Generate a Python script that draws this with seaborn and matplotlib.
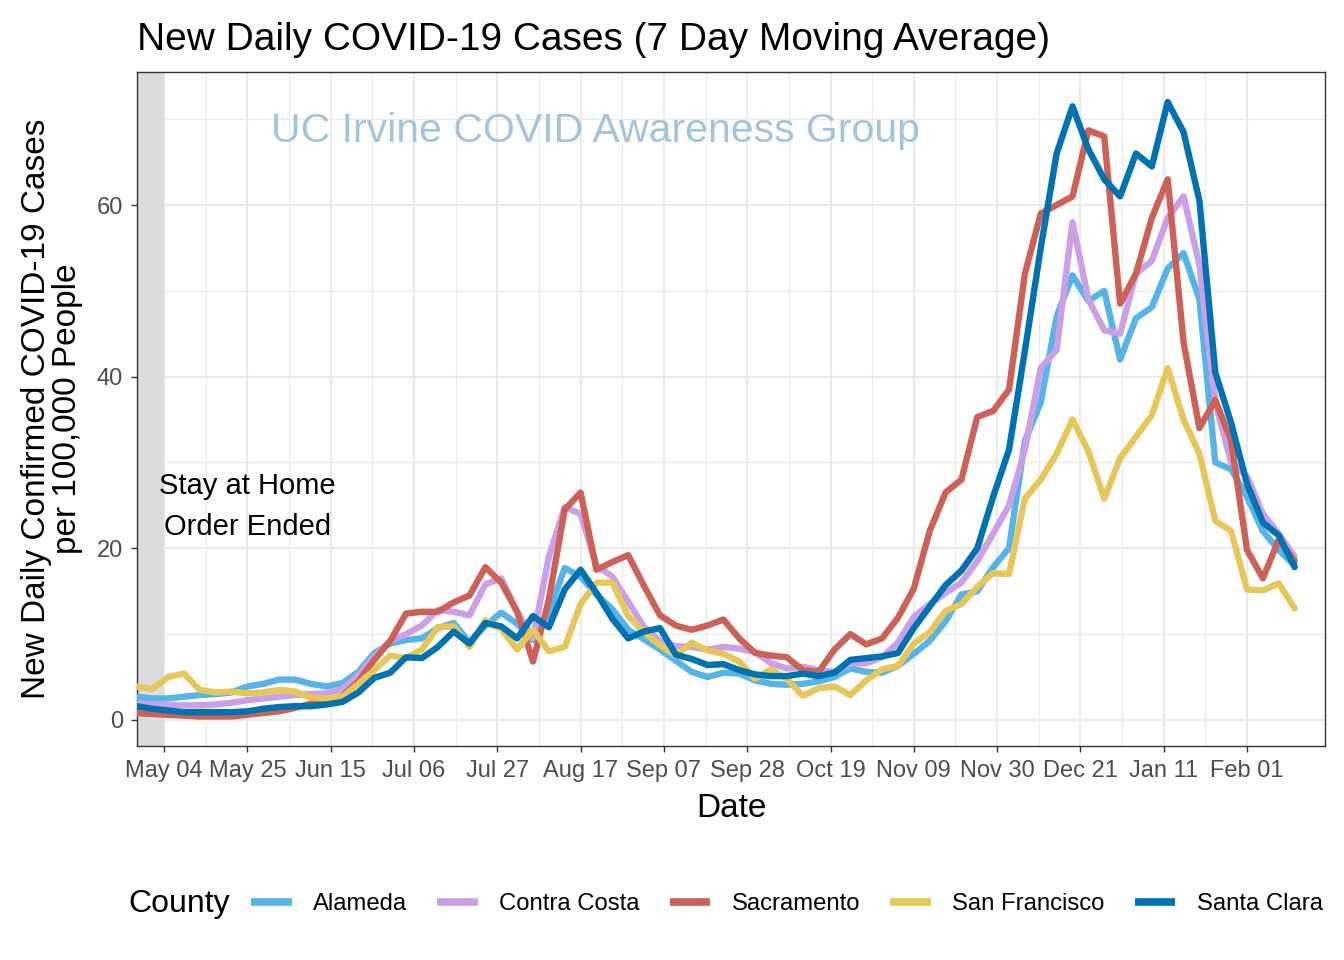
import numpy as np
import pandas as pd
import matplotlib
matplotlib.use("Agg")
import matplotlib.pyplot as plt
import matplotlib.dates as mdates
from matplotlib.lines import Line2D
import seaborn as sns

# === data: 7-day avg cases per 100k, one reading every 4 days from Apr 27 2020 ===
start = pd.Timestamp("2020-04-27")
n_points = 74
dates = pd.date_range(start, periods=n_points, freq="4D")

alameda = [2.7, 2.5, 2.5, 2.7, 2.9, 3.0, 3.2, 3.9, 4.2, 4.7,
           4.7, 4.2, 3.9, 4.3, 5.6, 7.8, 8.9, 9.3, 9.5, 10.7,
           11.3, 9.0, 11.0, 12.5, 11.2, 9.3, 12.5, 17.7, 16.7, 14.6,
           12.9, 10.5, 9.4, 8.2, 6.9, 5.6, 5.0, 5.5, 5.4, 4.6,
           4.2, 4.1, 4.2, 4.5, 5.0, 6.0, 5.6, 5.5, 6.3, 7.7,
           9.2, 11.5, 14.6, 15.0, 17.8, 20.0, 32.5, 37.0, 47.0, 51.8,
           48.8, 50.0, 42.0, 46.8, 48.1, 52.6, 54.4, 49.0, 30.0, 29.2,
           26.0, 22.0, 19.8, 18.0]

contra_costa = [1.9, 1.8, 1.7, 1.7, 1.7, 1.8, 2.0, 2.3, 2.5, 2.7,
                2.9, 3.0, 3.1, 3.6, 5.2, 7.4, 9.2, 10.0, 11.0, 12.8,
                12.6, 12.2, 15.8, 16.5, 12.6, 9.5, 19.0, 24.8, 24.0, 18.0,
                16.7, 13.8, 10.8, 9.2, 8.6, 8.5, 8.2, 8.5, 8.3, 7.9,
                6.6, 6.0, 6.2, 5.8, 5.6, 6.6, 6.6, 7.3, 9.0, 12.0,
                13.5, 14.8, 16.0, 18.5, 21.7, 25.0, 31.5, 41.0, 43.1, 58.0,
                49.0, 45.4, 45.0, 52.0, 53.5, 58.5, 61.0, 53.0, 37.0, 30.0,
                28.4, 24.0, 21.7, 19.0]

sacramento = [0.8, 0.7, 0.6, 0.5, 0.4, 0.4, 0.4, 0.6, 0.8, 1.0,
              1.4, 1.9, 2.2, 2.8, 4.5, 7.0, 9.2, 12.4, 12.6, 12.6,
              13.7, 14.5, 17.8, 16.0, 12.6, 6.8, 14.0, 24.5, 26.5, 17.5,
              18.4, 19.2, 15.6, 12.2, 11.0, 10.5, 11.0, 11.7, 9.5, 7.8,
              7.5, 7.3, 5.8, 5.6, 8.2, 10.0, 8.8, 9.5, 11.9, 15.3,
              22.0, 26.5, 28.0, 35.3, 36.0, 38.5, 52.0, 59.0, 60.0, 61.0,
              68.7, 68.0, 48.5, 52.0, 58.5, 63.0, 44.0, 34.0, 37.3, 32.5,
              19.8, 16.5, 21.0, 18.5]

san_francisco = [3.9, 3.6, 5.0, 5.4, 3.5, 3.2, 3.3, 3.1, 3.2, 3.5,
                 3.3, 2.6, 2.5, 2.7, 4.2, 5.8, 7.5, 7.2, 8.2, 10.8,
                 10.9, 8.5, 11.6, 10.6, 8.2, 10.5, 8.0, 8.5, 13.5, 16.0,
                 16.0, 12.1, 10.2, 8.7, 7.5, 9.0, 8.1, 7.7, 6.8, 4.8,
                 5.9, 4.8, 2.8, 3.7, 3.9, 2.9, 4.6, 5.9, 6.3, 8.9,
                 10.2, 12.7, 13.5, 15.5, 17.1, 17.0, 25.8, 28.0, 31.0, 35.0,
                 31.3, 25.8, 30.5, 33.0, 35.5, 41.0, 35.0, 31.0, 23.2, 22.0,
                 15.2, 15.1, 15.9, 13.0]

santa_clara = [1.6, 1.3, 1.1, 0.9, 0.9, 0.9, 0.9, 1.0, 1.3, 1.5,
               1.6, 1.6, 1.8, 2.1, 3.2, 4.9, 5.5, 7.3, 7.2, 8.5,
               10.3, 8.9, 11.3, 10.9, 9.5, 12.1, 10.8, 15.2, 17.5, 14.8,
               11.8, 9.5, 10.3, 10.7, 7.6, 7.1, 6.4, 6.5, 5.8, 5.3,
               5.1, 5.1, 5.4, 5.1, 5.5, 7.0, 7.2, 7.4, 7.8, 10.7,
               13.2, 15.7, 17.4, 20.0, 26.0, 31.5, 43.0, 55.0, 66.0, 71.5,
               66.5, 63.0, 61.0, 66.0, 64.5, 72.0, 68.5, 60.5, 40.5, 34.6,
               27.5, 23.0, 21.5, 17.8]

counties = ["Alameda", "Contra Costa", "Sacramento", "San Francisco", "Santa Clara"]
colors = ["#56B4E9", "#CBA0E6", "#CC6158", "#E6C85A", "#0072B2"]
series = [alameda, contra_costa, sacramento, san_francisco, santa_clara]

df = pd.concat(
    [pd.DataFrame({"Date": dates, "Cases": vals, "County": name})
     for name, vals in zip(counties, series)],
    ignore_index=True,
)

tick_dates = pd.date_range("2020-05-04", periods=14, freq="21D")
order_end = pd.Timestamp("2020-05-04")

# === plot ===
sns.set_theme(style="whitegrid")
plt.rcParams["font.family"] = ["Liberation Sans", "DejaVu Sans"]
plt.rcParams["text.color"] = "black"
plt.rcParams["axes.labelcolor"] = "black"

fig = plt.figure(figsize=(13.44, 9.6), dpi=100)
ax = fig.add_axes([0.102, 0.223, 0.884, 0.702])

x0 = order_end - pd.Timedelta(days=6.8)
x1 = order_end + pd.Timedelta(days=292.7)

ax.axvspan(x0, order_end, color="#dcdcdc", zorder=1.5, lw=0)

sns.lineplot(data=df, x="Date", y="Cases", hue="County", hue_order=counties,
             palette=colors, lw=4.6, ax=ax, legend=False, zorder=3)

ax.set_xlim(x0, x1)
ax.set_ylim(-3.03, 75.5)

ax.set_xticks(tick_dates)
ax.xaxis.set_major_formatter(mdates.DateFormatter("%b %d"))
ax.set_xticks(tick_dates[:-1] + pd.Timedelta(days=10.5), minor=True)
ax.set_yticks([0, 20, 40, 60])
ax.set_yticks([10, 30, 50, 70], minor=True)

ax.grid(which="major", color="#ebebeb", lw=1.6)
ax.grid(which="minor", color="#ebebeb", lw=0.9)
ax.set_axisbelow(True)
for s in ax.spines.values():
    s.set_color("#333333")
    s.set_linewidth(1.0)
ax.tick_params(axis="both", which="major", length=4, width=1, color="#333333",
               labelsize=17, labelcolor="#4d4d4d", pad=6, bottom=True, left=True)
ax.tick_params(which="minor", length=0)

ax.set_xlabel("Date", fontsize=24, color="black", labelpad=8)
ax.set_ylabel("New Daily Confirmed COVID-19 Cases\nper 100,000 People",
              fontsize=24, color="black", labelpad=10, linespacing=1.0)
ax.set_title("New Daily COVID-19 Cases (7 Day Moving Average)",
             loc="left", fontsize=28, pad=16, color="black")

ax.text(pd.Timestamp("2020-05-25"), 24.9, "Stay at Home\nOrder Ended",
        ha="center", va="center", fontsize=21, linespacing=1.6, zorder=4,
        color="black")
ax.text(order_end + pd.Timedelta(days=108.7), 68.6, "UC Irvine COVID Awareness Group",
        ha="center", va="center", fontsize=29.5, color="#a3c4dc", zorder=2)

handles = [Line2D([], [], color=c, lw=5.5, solid_capstyle="butt") for c in colors]
leg = fig.legend(handles, counties, loc="center",
                 bbox_to_anchor=(0.5855, 0.058), ncol=5, frameon=False,
                 fontsize=17.2, handlelength=1.7, handletextpad=0.9,
                 columnspacing=1.25)
for t in leg.get_texts():
    t.set_color("black")
fig.text(128 / 1344, 0.058, "County", fontsize=23, ha="left", va="center",
         color="black")

fig.savefig("out.png", dpi=100)
